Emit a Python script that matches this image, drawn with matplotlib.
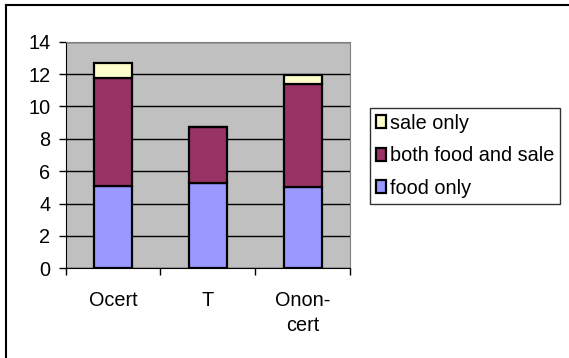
#!/usr/bin/env python3
import numpy as np
import matplotlib.pyplot as plt
from matplotlib.lines import Line2D

categories = ['Ocert', 'T', 'Onon-\ncert']
food_only = [5.1, 5.3, 5.0]
both_food_sale = [6.65, 3.45, 6.4]
sale_only = [0.95, 0.0, 0.55]

plt.rcParams['font.family'] = ['Liberation Sans', 'DejaVu Sans']
FS = 14.3

fig = plt.figure(figsize=(5.69, 3.58), dpi=100)
fig.patch.set_facecolor('white')
ax = fig.add_axes([65.7 / 569, 1 - 268.3 / 358, (350 - 65.7) / 569, (268.3 - 41.7) / 358])
ax.set_facecolor('#C0C0C0')

x = np.arange(len(categories)) + 0.5
w = 0.4
food = np.array(food_only)
both = np.array(both_food_sale)
sale = np.array(sale_only)

b1 = ax.bar(x, food, w, color='#9999FF', edgecolor='black', linewidth=1.6, label='food only', zorder=3)
b2 = ax.bar(x, both, w, bottom=food, color='#993366', edgecolor='black', linewidth=1.6,
            label='both food and sale', zorder=3)
b3 = ax.bar(x, sale, w, bottom=food + both, color='#FFFFCC', edgecolor='black', linewidth=1.6,
            label='sale only', zorder=3)

ax.set_xlim(0, 3)
ax.set_ylim(0, 14)
ax.set_yticks(np.arange(0, 15, 2))
ax.yaxis.grid(True, color='black', linewidth=1)
ax.set_axisbelow(True)
ax.tick_params(axis='y', direction='out', length=5, width=1, pad=6, labelsize=FS)

ax.set_xticks(x)
ax.set_xticklabels(categories, fontsize=FS, linespacing=1.45)
ax.set_xticks([0, 1, 2, 3], minor=True)
ax.tick_params(axis='x', which='major', length=0, pad=16)
ax.tick_params(axis='x', which='minor', direction='out', length=5, width=1)

for s in ['top', 'right']:
    ax.spines[s].set_color('#808080')
for s in ['left', 'bottom']:
    ax.spines[s].set_color('black')

leg = fig.legend([b3, b2, b1], ['sale only', 'both food and sale', 'food only'],
                 loc='upper left', bbox_to_anchor=(370 / 569, 1 - 107.7 / 358),
                 fontsize=FS, frameon=True, fancybox=False, shadow=False,
                 handlelength=0.5, handleheight=0.65, handletextpad=0.2,
                 borderpad=0.3, labelspacing=0.68, borderaxespad=0)
leg.get_frame().set_edgecolor('black')
leg.get_frame().set_linewidth(1)

# outer chart border (only left and top visible)
fig.add_artist(Line2D([5.5 / 569, 5.5 / 569], [0, 1 - 4.5 / 358], color='black', linewidth=1.5,
                      transform=fig.transFigure))
fig.add_artist(Line2D([5.5 / 569, 1], [1 - 4.5 / 358, 1 - 4.5 / 358], color='black', linewidth=1.5,
                      transform=fig.transFigure))

fig.savefig('out.png', dpi=100)
